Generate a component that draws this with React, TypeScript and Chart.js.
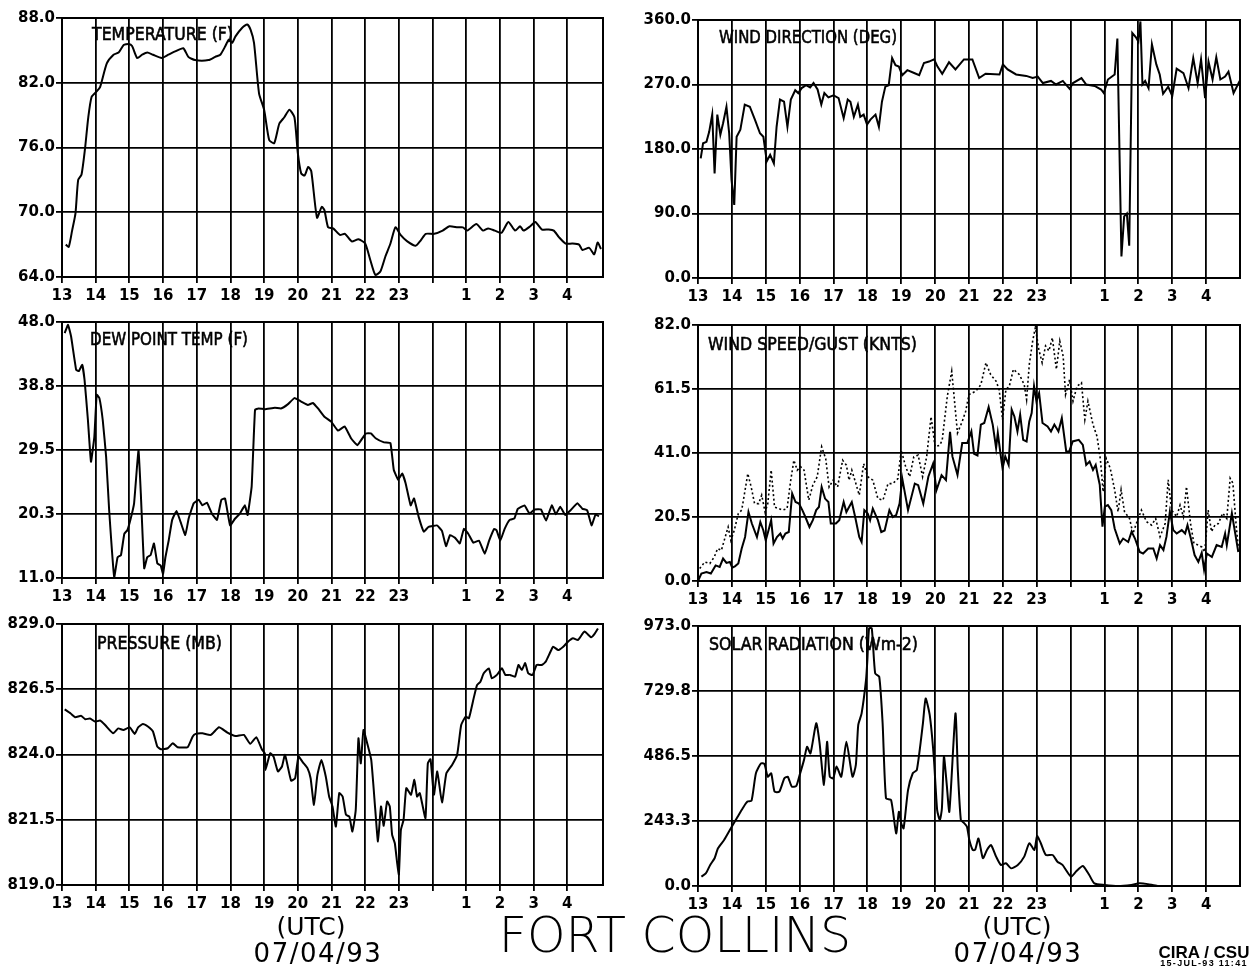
import React, { useEffect, useRef } from "react";
import { Chart, registerables } from "chart.js";
Chart.register(...registerables);

// ---------- axis ticks ----------
const hourTicks = [13, 14, 15, 16, 17, 18, 19, 20, 21, 22, 23, 24, 25, 26, 27, 28];
const hourLabels = ["13", "14", "15", "16", "17", "18", "19", "20", "21", "22", "23", "", "1", "2", "3", "4"];

const tempTicks = ["64.0", "70.0", "76.0", "82.0", "88.0"];
const dewTicks = ["11.0", "20.3", "29.5", "38.8", "48.0"];
const presTicks = ["819.0", "821.5", "824.0", "826.5", "829.0"];
const wdirTicks = ["0.0", "90.0", "180.0", "270.0", "360.0"];
const wspdTicks = ["0.0", "20.5", "41.0", "61.5", "82.0"];
const solarTicks = ["0.0", "243.3", "486.5", "729.8", "973.0"];

// ---------- series (hours UTC, 24+ = next day) ----------
const tempHours = [13.11, 13.2, 13.3, 13.4, 13.48, 13.58, 13.68, 13.78, 13.88, 14.03, 14.13, 14.33, 14.53, 14.68, 14.83, 14.98, 15.08, 15.23, 15.38, 15.53, 15.7, 15.96, 16.16, 16.36, 16.6, 16.75, 16.95, 17.35, 17.55, 17.7, 17.85, 17.95, 18.05, 18.15, 18.35, 18.5, 18.6, 18.7, 18.85, 19.0, 19.15, 19.3, 19.45, 19.6, 19.75, 19.9, 20.0, 20.1, 20.2, 20.31, 20.4, 20.57, 20.71, 20.79, 20.9, 21.05, 21.25, 21.4, 21.6, 21.8, 22.0, 22.15, 22.3, 22.45, 22.6, 22.75, 22.9, 23.05, 23.25, 23.5, 23.65, 23.8, 24.05, 24.3, 24.5, 24.75, 24.9, 25.03, 25.3, 25.5, 25.65, 25.85, 26.05, 26.25, 26.45, 26.6, 26.7, 26.9, 27.05, 27.25, 27.45, 27.6, 27.75, 27.95, 28.15, 28.35, 28.45, 28.65, 28.8, 28.9, 29.0];
const tempValues = [67.0, 66.8, 68.3, 69.9, 73.0, 73.5, 75.8, 78.8, 80.7, 81.2, 81.6, 83.8, 84.6, 84.8, 85.5, 85.6, 85.4, 84.3, 84.6, 84.8, 84.6, 84.3, 84.6, 84.9, 85.2, 84.4, 84.1, 84.1, 84.4, 84.6, 85.4, 86.0, 85.7, 86.3, 87.1, 87.4, 86.9, 85.7, 81.0, 79.5, 76.7, 76.4, 78.2, 78.8, 79.5, 78.8, 75.5, 73.6, 73.4, 74.2, 73.8, 69.5, 70.5, 70.2, 68.6, 68.5, 67.9, 68.0, 67.3, 67.5, 67.1, 65.6, 64.2, 64.5, 65.9, 67.1, 68.6, 67.9, 67.3, 66.9, 67.4, 68.0, 68.0, 68.3, 68.7, 68.6, 68.6, 68.3, 68.9, 68.3, 68.5, 68.3, 68.1, 69.1, 68.3, 68.7, 68.3, 68.7, 69.1, 68.4, 68.4, 68.3, 67.7, 67.1, 67.1, 67.0, 66.5, 66.7, 66.1, 67.2, 66.6];

const dewHours = [13.08, 13.18, 13.27, 13.42, 13.5, 13.6, 13.67, 13.77, 13.86, 13.96, 14.03, 14.11, 14.21, 14.31, 14.4, 14.55, 14.65, 14.75, 14.85, 14.94, 15.04, 15.14, 15.27, 15.34, 15.44, 15.53, 15.63, 15.73, 15.83, 15.93, 16.0, 16.07, 16.17, 16.27, 16.4, 16.52, 16.66, 16.76, 16.91, 17.06, 17.17, 17.3, 17.45, 17.6, 17.73, 17.84, 17.99, 18.14, 18.28, 18.43, 18.51, 18.63, 18.73, 18.83, 19.02, 19.32, 19.5, 19.7, 19.9, 20.1, 20.3, 20.45, 20.6, 20.79, 20.99, 21.19, 21.39, 21.58, 21.77, 22.02, 22.17, 22.31, 22.56, 22.75, 22.85, 22.98, 23.1, 23.2, 23.35, 23.45, 23.59, 23.74, 23.88, 24.13, 24.28, 24.4, 24.52, 24.67, 24.81, 24.93, 25.06, 25.21, 25.38, 25.55, 25.68, 25.83, 25.9, 26.01, 26.14, 26.29, 26.43, 26.53, 26.73, 26.88, 27.03, 27.22, 27.37, 27.54, 27.66, 27.79, 27.94, 28.1, 28.3, 28.45, 28.59, 28.72, 28.84, 28.94];
const dewValues = [46.4, 47.6, 45.9, 41.1, 40.9, 41.8, 39.6, 33.8, 27.8, 31.4, 37.5, 37.0, 33.8, 28.5, 20.8, 11.1, 14.0, 14.3, 17.4, 17.9, 19.6, 21.8, 29.5, 23.2, 12.4, 14.0, 14.3, 16.0, 13.1, 12.8, 11.6, 14.0, 16.5, 19.4, 20.7, 19.1, 17.2, 19.6, 21.8, 22.3, 21.5, 21.9, 20.3, 19.4, 22.3, 22.5, 18.6, 19.6, 20.3, 21.5, 20.1, 24.2, 35.3, 35.5, 35.4, 35.6, 35.5, 36.1, 37.0, 36.5, 36.0, 36.3, 35.5, 34.3, 33.6, 32.3, 32.9, 31.2, 30.2, 31.9, 31.9, 31.2, 30.6, 30.5, 26.6, 25.2, 26.1, 24.7, 21.5, 22.5, 19.8, 17.7, 18.4, 18.6, 17.8, 15.6, 17.2, 16.8, 16.0, 18.1, 17.4, 16.1, 16.4, 14.5, 16.4, 18.1, 17.9, 16.4, 18.1, 19.4, 19.6, 21.0, 21.5, 20.3, 20.9, 20.9, 19.3, 21.5, 20.2, 21.3, 20.1, 20.8, 21.8, 21.0, 20.8, 18.6, 20.2, 19.9];

const presHours = [13.08, 13.25, 13.39, 13.57, 13.69, 13.83, 13.98, 14.13, 14.28, 14.52, 14.67, 14.82, 15.01, 15.16, 15.26, 15.4, 15.55, 15.7, 15.83, 15.94, 16.14, 16.29, 16.43, 16.73, 16.88, 16.97, 17.17, 17.42, 17.66, 17.91, 18.15, 18.4, 18.59, 18.77, 18.94, 19.02, 19.04, 19.18, 19.28, 19.41, 19.53, 19.62, 19.8, 19.92, 20.02, 20.15, 20.29, 20.38, 20.48, 20.58, 20.7, 20.83, 20.93, 21.03, 21.13, 21.23, 21.33, 21.43, 21.53, 21.62, 21.72, 21.8, 21.87, 21.95, 22.06, 22.18, 22.3, 22.38, 22.47, 22.55, 22.65, 22.73, 22.8, 22.88, 22.95, 23.0, 23.06, 23.14, 23.22, 23.36, 23.46, 23.54, 23.62, 23.69, 23.79, 23.86, 23.94, 24.04, 24.14, 24.28, 24.41, 24.58, 24.73, 24.85, 24.98, 25.08, 25.22, 25.32, 25.42, 25.52, 25.67, 25.76, 25.91, 26.06, 26.16, 26.3, 26.45, 26.55, 26.65, 26.75, 26.84, 26.97, 27.09, 27.24, 27.36, 27.48, 27.58, 27.73, 27.88, 28.02, 28.17, 28.32, 28.51, 28.71, 28.81, 28.91];
const presValues = [825.73, 825.58, 825.43, 825.48, 825.35, 825.38, 825.26, 825.3, 825.13, 824.81, 825.0, 824.94, 825.04, 824.79, 825.04, 825.17, 825.07, 824.88, 824.3, 824.2, 824.24, 824.43, 824.28, 824.28, 824.69, 824.79, 824.81, 824.75, 825.04, 824.84, 824.71, 824.75, 824.41, 824.66, 824.18, 824.05, 823.41, 824.05, 823.92, 823.35, 823.54, 823.99, 823.0, 823.09, 823.92, 823.7, 823.47, 823.09, 822.07, 823.2, 823.79, 823.16, 822.39, 822.01, 821.24, 822.52, 822.39, 821.69, 821.62, 821.05, 821.88, 824.62, 823.66, 824.94, 824.43, 823.79, 821.88, 820.67, 822.01, 821.27, 822.2, 822.01, 820.92, 820.6, 819.84, 819.4, 821.11, 821.5, 822.71, 822.46, 823.03, 822.39, 822.52, 822.13, 821.56, 823.66, 823.82, 822.46, 823.35, 822.16, 823.28, 823.6, 823.99, 825.13, 825.45, 825.39, 826.15, 826.66, 826.79, 827.11, 827.3, 826.92, 827.05, 827.3, 827.05, 827.05, 826.98, 827.43, 827.24, 827.5, 827.11, 827.05, 827.43, 827.43, 827.56, 827.88, 828.13, 828.0, 828.13, 828.32, 828.45, 828.39, 828.71, 828.49, 828.62, 828.83];

const wdirHours = [13.08, 13.15, 13.25, 13.33, 13.42, 13.49, 13.57, 13.66, 13.74, 13.84, 13.92, 13.99, 14.07, 14.14, 14.25, 14.38, 14.53, 14.68, 14.83, 14.93, 15.03, 15.13, 15.24, 15.32, 15.42, 15.54, 15.64, 15.74, 15.87, 15.96, 16.06, 16.19, 16.31, 16.41, 16.53, 16.64, 16.73, 16.85, 17.0, 17.15, 17.3, 17.42, 17.5, 17.6, 17.72, 17.79, 17.89, 17.99, 18.09, 18.24, 18.34, 18.43, 18.53, 18.63, 18.73, 18.83, 18.93, 19.03, 19.18, 19.38, 19.53, 19.67, 19.82, 19.97, 20.07, 20.21, 20.41, 20.6, 20.85, 21.1, 21.3, 21.49, 21.9, 22.0, 22.14, 22.39, 22.69, 22.88, 23.03, 23.18, 23.42, 23.57, 23.77, 23.97, 24.07, 24.32, 24.46, 24.71, 24.9, 24.98, 25.1, 25.3, 25.38, 25.5, 25.58, 25.66, 25.73, 25.82, 25.94, 26.0, 26.06, 26.12, 26.2, 26.3, 26.4, 26.53, 26.63, 26.73, 26.88, 27.0, 27.13, 27.33, 27.48, 27.62, 27.75, 27.85, 27.97, 28.07, 28.19, 28.3, 28.42, 28.56, 28.66, 28.81, 28.99];
const wdirValues = [167, 188, 190, 204, 228, 146, 228, 200, 216, 239, 202, 137, 102, 197, 207, 242, 239, 221, 202, 197, 163, 172, 160, 211, 249, 246, 211, 249, 262, 258, 265, 269, 266, 272, 263, 242, 258, 252, 255, 251, 223, 249, 246, 225, 242, 225, 228, 214, 221, 228, 211, 246, 267, 269, 307, 297, 295, 283, 290, 286, 283, 300, 302, 305, 295, 285, 301, 291, 305, 305, 279, 285, 284, 298, 291, 284, 282, 279, 281, 272, 275, 270, 275, 264, 272, 279, 270, 268, 263, 258, 277, 284, 334, 30, 86, 90, 45, 342, 335, 330, 358, 270, 275, 265, 326, 298, 284, 257, 267, 254, 292, 286, 265, 307, 272, 305, 251, 302, 277, 308, 277, 281, 288, 258, 275];

const speedHours = [13.0, 13.1, 13.25, 13.38, 13.52, 13.64, 13.74, 13.84, 13.94, 14.01, 14.09, 14.19, 14.29, 14.39, 14.49, 14.59, 14.74, 14.84, 14.93, 15.0, 15.08, 15.16, 15.23, 15.33, 15.43, 15.5, 15.58, 15.68, 15.78, 15.88, 15.98, 16.08, 16.17, 16.29, 16.39, 16.49, 16.57, 16.65, 16.75, 16.85, 16.92, 17.07, 17.17, 17.3, 17.38, 17.54, 17.64, 17.76, 17.83, 17.91, 18.01, 18.08, 18.16, 18.31, 18.41, 18.51, 18.65, 18.75, 18.85, 18.95, 19.03, 19.2, 19.4, 19.5, 19.65, 19.8, 19.94, 20.04, 20.19, 20.32, 20.44, 20.51, 20.66, 20.8, 20.95, 21.07, 21.15, 21.25, 21.35, 21.45, 21.58, 21.7, 21.8, 21.85, 21.94, 21.99, 22.07, 22.17, 22.26, 22.34, 22.43, 22.51, 22.6, 22.7, 22.78, 22.85, 22.92, 22.99, 23.07, 23.17, 23.32, 23.42, 23.52, 23.64, 23.74, 23.87, 23.96, 24.06, 24.24, 24.36, 24.46, 24.56, 24.66, 24.74, 24.81, 24.86, 24.94, 25.01, 25.1, 25.2, 25.3, 25.45, 25.55, 25.7, 25.8, 25.9, 26.04, 26.14, 26.29, 26.44, 26.54, 26.64, 26.74, 26.83, 26.93, 27.03, 27.13, 27.28, 27.38, 27.45, 27.55, 27.66, 27.77, 27.87, 27.94, 28.02, 28.17, 28.31, 28.46, 28.56, 28.61, 28.76, 28.86, 28.95];
const speedValues = [0, 2.4, 2.9, 2.4, 5.0, 4.5, 7.2, 5.8, 6.1, 4.3, 4.7, 5.6, 10.4, 14.1, 22.1, 18.4, 14.1, 18.9, 16.2, 13.0, 16.2, 19.5, 12.0, 14.1, 15.2, 13.6, 15.2, 15.7, 28.0, 25.3, 24.8, 22.7, 20.5, 17.3, 19.5, 22.7, 23.7, 30.1, 26.4, 25.3, 18.4, 18.4, 19.5, 25.3, 22.1, 25.3, 20.5, 14.1, 12.5, 22.7, 21.6, 19.5, 23.2, 19.5, 15.7, 16.2, 22.7, 20.5, 21.1, 24.8, 32.8, 22.7, 31.2, 30.7, 24.8, 33.4, 37.6, 29.1, 33.9, 32.3, 47.8, 39.9, 34.0, 44.2, 44.2, 47.9, 40.7, 40.2, 50.1, 50.6, 55.7, 50.1, 42.6, 47.4, 39.9, 36.1, 39.9, 37.2, 54.9, 52.7, 47.9, 53.3, 45.2, 44.7, 51.1, 53.8, 62.4, 57.6, 60.2, 50.6, 49.5, 47.9, 50.1, 47.9, 52.2, 41.5, 41.5, 44.7, 45.2, 43.6, 37.2, 38.3, 35.6, 37.2, 33.4, 30.8, 17.4, 23.8, 24.3, 22.7, 16.8, 12.0, 13.6, 12.5, 15.8, 13.6, 9.3, 8.8, 10.4, 10.4, 7.2, 11.5, 9.9, 14.2, 22.2, 16.3, 15.2, 16.3, 15.2, 17.9, 13.6, 8.3, 6.1, 9.0, 3.6, 8.8, 7.7, 11.5, 10.9, 15.2, 11.5, 21.7, 15.2, 9.3];

const gustHours = [13.05, 13.2, 13.35, 13.48, 13.58, 13.69, 13.79, 13.89, 13.97, 14.07, 14.19, 14.29, 14.39, 14.47, 14.57, 14.67, 14.79, 14.88, 14.98, 15.06, 15.16, 15.26, 15.38, 15.5, 15.63, 15.73, 15.83, 15.93, 16.03, 16.13, 16.27, 16.39, 16.52, 16.65, 16.77, 16.87, 16.99, 17.12, 17.27, 17.38, 17.46, 17.54, 17.66, 17.76, 17.89, 18.01, 18.16, 18.31, 18.46, 18.61, 18.75, 18.9, 19.0, 19.13, 19.25, 19.37, 19.5, 19.63, 19.75, 19.88, 20.0, 20.14, 20.21, 20.36, 20.49, 20.66, 20.8, 20.9, 21.0, 21.2, 21.35, 21.5, 21.64, 21.8, 21.89, 21.99, 22.09, 22.19, 22.31, 22.49, 22.63, 22.7, 22.78, 22.88, 22.96, 23.06, 23.16, 23.26, 23.36, 23.46, 23.58, 23.68, 23.78, 23.85, 23.97, 24.07, 24.19, 24.32, 24.42, 24.51, 24.66, 24.78, 24.88, 24.96, 25.05, 25.17, 25.3, 25.4, 25.49, 25.59, 25.74, 25.84, 25.94, 26.09, 26.24, 26.39, 26.51, 26.64, 26.79, 26.88, 26.98, 27.13, 27.23, 27.33, 27.42, 27.54, 27.64, 27.77, 27.87, 27.96, 28.06, 28.16, 28.26, 28.36, 28.49, 28.61, 28.71, 28.79, 28.89, 28.95];
const gustValues = [4.0, 6.1, 5.6, 7.7, 10.4, 9.8, 13.6, 17.3, 13.0, 16.2, 21.6, 22.7, 29.1, 34.4, 30.1, 24.8, 24.8, 27.5, 22.1, 24.8, 35.5, 23.7, 23.2, 22.7, 23.2, 31.7, 38.7, 35.5, 36.6, 35.5, 25.9, 30.7, 33.4, 43.0, 39.2, 30.1, 32.3, 30.1, 38.7, 37.1, 32.3, 35.5, 31.2, 27.5, 37.6, 33.4, 32.3, 26.4, 25.9, 31.2, 31.2, 32.8, 41.9, 36.6, 33.4, 39.8, 40.3, 33.4, 39.8, 52.6, 43.0, 43.5, 45.2, 59.2, 67.2, 47.4, 51.1, 54.3, 59.7, 60.8, 62.9, 69.9, 66.1, 64.0, 61.3, 51.7, 61.3, 62.4, 67.8, 66.1, 62.9, 58.1, 69.4, 76.9, 81.2, 74.2, 69.9, 75.3, 73.7, 77.9, 67.8, 76.9, 72.0, 59.7, 64.5, 57.6, 62.4, 63.5, 51.7, 57.6, 50.1, 46.3, 38.8, 28.6, 39.3, 36.1, 29.2, 22.2, 29.2, 22.2, 20.0, 15.2, 18.4, 22.7, 19.0, 17.9, 20.0, 14.2, 18.4, 32.4, 22.7, 20.6, 24.3, 20.6, 30.2, 18.4, 12.0, 11.5, 10.9, 9.3, 22.7, 15.8, 17.9, 18.4, 21.7, 20.0, 32.9, 31.3, 17.4, 10.9];

const solarHours = [13.1, 13.23, 13.36, 13.49, 13.59, 13.77, 13.97, 14.17, 14.32, 14.46, 14.58, 14.71, 14.86, 14.96, 15.06, 15.16, 15.26, 15.4, 15.55, 15.65, 15.77, 15.9, 16.0, 16.13, 16.22, 16.32, 16.49, 16.59, 16.72, 16.81, 16.89, 16.99, 17.09, 17.23, 17.38, 17.56, 17.66, 17.73, 17.83, 17.96, 18.0, 18.05, 18.13, 18.23, 18.35, 18.45, 18.55, 18.7, 18.85, 18.93, 19.0, 19.07, 19.2, 19.34, 19.46, 19.64, 19.72, 19.84, 19.96, 20.06, 20.14, 20.2, 20.26, 20.34, 20.42, 20.6, 20.67, 20.76, 20.86, 20.94, 21.01, 21.11, 21.18, 21.28, 21.41, 21.53, 21.65, 21.8, 21.94, 22.09, 22.24, 22.44, 22.63, 22.78, 22.93, 23.01, 23.12, 23.27, 23.47, 23.61, 23.76, 24.01, 24.16, 24.36, 24.55, 24.7, 25.0, 25.4, 25.79, 26.03, 26.28, 26.57, 29.0];
const solarValues = [35, 47, 79, 104, 141, 172, 216, 259, 291, 316, 319, 422, 459, 457, 409, 422, 353, 353, 403, 409, 372, 374, 415, 472, 521, 496, 609, 534, 378, 540, 409, 403, 447, 409, 540, 409, 453, 602, 646, 771, 846, 964, 964, 796, 783, 609, 328, 322, 197, 278, 234, 216, 359, 422, 434, 609, 702, 640, 484, 284, 247, 290, 484, 384, 278, 646, 434, 247, 235, 222, 172, 135, 135, 178, 104, 135, 153, 110, 79, 85, 66, 79, 110, 160, 135, 187, 160, 116, 116, 91, 79, 35, 54, 75, 41, 10, 4, 0, 4, 10, 7, 0, 0];

// ---------- layout ----------
type Series = { hours: number[]; values: number[]; dashed?: boolean };
type PanelCfg = {
  key: string;
  title: string;
  titleDx: number;
  titleDy: number;
  titleW: number;
  L: number; R: number; T: number; B: number;
  yAxisW: number;
  xMax: number;
  yMin: number; yMax: number;
  yLabels: string[];
  series: Series[];
  tension: number;
};

const TOP_PAD = 12;
const RIGHT_PAD = 10;
const X_AXIS_H = 34;

const panels: PanelCfg[] = [
  { key: "temp", title: "TEMPERATURE (F)", titleDx: 30, titleDy: 22, titleW: 141, L: 62, R: 603, T: 18, B: 277, yAxisW: 62, xMax: 29.06, yMin: 64, yMax: 88, yLabels: tempTicks, series: [{ hours: tempHours, values: tempValues }], tension: 0.2 },
  { key: "dew", title: "DEW POINT TEMP (F)", titleDx: 28, titleDy: 23, titleW: 158, L: 62, R: 603, T: 322, B: 578, yAxisW: 62, xMax: 29.06, yMin: 11, yMax: 48, yLabels: dewTicks, series: [{ hours: dewHours, values: dewValues }], tension: 0.1 },
  { key: "pres", title: "PRESSURE (MB)", titleDx: 35, titleDy: 25, titleW: 125, L: 62, R: 603, T: 624, B: 885, yAxisW: 62, xMax: 29.06, yMin: 819, yMax: 829, yLabels: presTicks, series: [{ hours: presHours, values: presValues }], tension: 0.15 },
  { key: "wdir", title: "WIND DIRECTION (DEG)", titleDx: 21, titleDy: 23, titleW: 178, L: 698, R: 1240, T: 20, B: 278, yAxisW: 72, xMax: 29.0, yMin: 0, yMax: 360, yLabels: wdirTicks, series: [{ hours: wdirHours, values: wdirValues }], tension: 0 },
  { key: "wspd", title: "WIND SPEED/GUST (KNTS)", titleDx: 10, titleDy: 25, titleW: 209, L: 698, R: 1240, T: 325, B: 581, yAxisW: 72, xMax: 29.0, yMin: 0, yMax: 82, yLabels: wspdTicks, series: [{ hours: speedHours, values: speedValues }, { hours: gustHours, values: gustValues, dashed: true }], tension: 0 },
  { key: "solar", title: "SOLAR RADIATION (Wm-2)", titleDx: 11, titleDy: 24, titleW: 209, L: 698, R: 1240, T: 626, B: 886, yAxisW: 72, xMax: 29.0, yMin: 0, yMax: 973, yLabels: solarTicks, series: [{ hours: solarHours, values: solarValues }], tension: 0.2 },
];

const TICK_FONT = { family: '"DejaVu Sans", sans-serif', size: 15, weight: "bold" as const };

const framePlugin = {
  id: "frame",
  afterDraw(chart: any) {
    const { ctx, chartArea } = chart;
    ctx.save();
    ctx.strokeStyle = "#000";
    ctx.lineWidth = 2;
    ctx.strokeRect(chartArea.left, chartArea.top, chartArea.right - chartArea.left, chartArea.bottom - chartArea.top);
    ctx.restore();
  },
};

const titlePlugin = {
  id: "panelTitle",
  afterDatasetsDraw(chart: any, _args: any, opts: any) {
    const { ctx, chartArea } = chart;
    ctx.save();
    ctx.font = '18px "DejaVu Sans", sans-serif';
    ctx.fillStyle = "#000";
    ctx.strokeStyle = "#000";
    ctx.lineWidth = 0.6;
    ctx.textBaseline = "alphabetic";
    ctx.textAlign = "left";
    const w = ctx.measureText(opts.text).width;
    ctx.translate(chartArea.left + opts.dx, chartArea.top + opts.dy);
    ctx.scale(opts.width / w, 1);
    ctx.fillText(opts.text, 0, 0);
    ctx.strokeText(opts.text, 0, 0);
    ctx.restore();
  },
};

function Panel({ cfg }: { cfg: PanelCfg }) {
  const ref = useRef<HTMLCanvasElement>(null);
  const width = cfg.yAxisW + (cfg.R - cfg.L) + RIGHT_PAD;
  const height = TOP_PAD + (cfg.B - cfg.T) + X_AXIS_H;

  useEffect(() => {
    const datasets = cfg.series.map((s) => ({
      data: s.hours.map((h, i) => ({ x: h, y: s.values[i] })),
      borderColor: "#000",
      borderWidth: s.dashed ? 1.6 : 2,
      borderDash: s.dashed ? [2, 2.5] : [],
      pointRadius: 0,
      fill: false,
      tension: cfg.tension,
    }));
    const chart = new Chart(ref.current as HTMLCanvasElement, {
      type: "line",
      data: { datasets },
      plugins: [framePlugin, titlePlugin],
      options: {
        animation: false,
        responsive: false,
        events: [],
        layout: { autoPadding: false, padding: { top: TOP_PAD, right: RIGHT_PAD, left: 0, bottom: 0 } },
        plugins: {
          legend: { display: false },
          tooltip: { enabled: false },
          panelTitle: { text: cfg.title, dx: cfg.titleDx, dy: cfg.titleDy, width: cfg.titleW },
        } as any,
        scales: {
          x: {
            type: "linear",
            min: 13,
            max: cfg.xMax,
            afterBuildTicks: (scale: any) => {
              scale.ticks = hourTicks.map((v) => ({ value: v }));
            },
            afterFit: (scale: any) => {
              scale.height = X_AXIS_H;
            },
            ticks: {
              autoSkip: false,
              maxRotation: 0,
              padding: 4,
              color: "#000",
              font: TICK_FONT,
              callback: (_v: any, i: number) => hourLabels[i],
            },
            grid: { color: "#000", lineWidth: 1.8, tickLength: 6, drawTicks: true },
            border: { display: true, color: "#000", width: 2 },
          },
          y: {
            type: "linear",
            min: cfg.yMin,
            max: cfg.yMax,
            afterBuildTicks: (scale: any) => {
              scale.ticks = cfg.yLabels.map((_l, i) => ({ value: cfg.yMin + (i * (cfg.yMax - cfg.yMin)) / 4 }));
            },
            afterFit: (scale: any) => {
              scale.width = cfg.yAxisW;
            },
            ticks: {
              padding: 1,
              color: "#000",
              font: TICK_FONT,
              callback: (_v: any, i: number) => cfg.yLabels[i],
            },
            grid: { color: "#000", lineWidth: 1.8, tickLength: 6, drawTicks: true },
            border: { display: true, color: "#000", width: 2 },
          },
        },
      } as any,
    });
    return () => chart.destroy();
  }, []);

  return (
    <canvas
      ref={ref}
      width={width}
      height={height}
      style={{ position: "absolute", left: cfg.L - cfg.yAxisW, top: cfg.T - TOP_PAD, width, height }}
    />
  );
}

const footerText = (text: string, cx: number, top: number, style: React.CSSProperties) => (
  <div
    style={{
      position: "absolute",
      left: cx - 250,
      width: 500,
      top,
      textAlign: "center",
      lineHeight: 1,
      whiteSpace: "nowrap",
      color: "#000",
      ...style,
    }}
  >
    {text}
  </div>
);

export default function App() {
  return (
    <div style={{ position: "absolute", left: 0, top: 0, width: 1252, height: 971, background: "#fff", overflow: "hidden" }}>
      {panels.map((p) => (
        <Panel key={p.key} cfg={p} />
      ))}
      {footerText("(UTC)", 311, 914, { fontFamily: '"DejaVu Sans", sans-serif', fontSize: 25 })}
      {footerText("07/04/93", 318, 940, { fontFamily: '"DejaVu Sans", sans-serif', fontSize: 26, letterSpacing: 1.5 })}
      {footerText("(UTC)", 1017, 914, { fontFamily: '"DejaVu Sans", sans-serif', fontSize: 25 })}
      {footerText("07/04/93", 1018, 940, { fontFamily: '"DejaVu Sans", sans-serif', fontSize: 26, letterSpacing: 1.5 })}
      {footerText("FORT COLLINS", 675, 911, { fontFamily: '"DejaVu Sans", sans-serif', fontSize: 49, fontWeight: 200 })}
      {footerText("CIRA / CSU", 1204, 944, { fontFamily: '"Liberation Sans", sans-serif', fontSize: 17, fontWeight: 700 })}
      {footerText("15-JUL-93 11:41", 1204, 959, { fontFamily: '"Liberation Sans", sans-serif', fontSize: 9, fontWeight: 700, letterSpacing: 1.3 })}
    </div>
  );
}
